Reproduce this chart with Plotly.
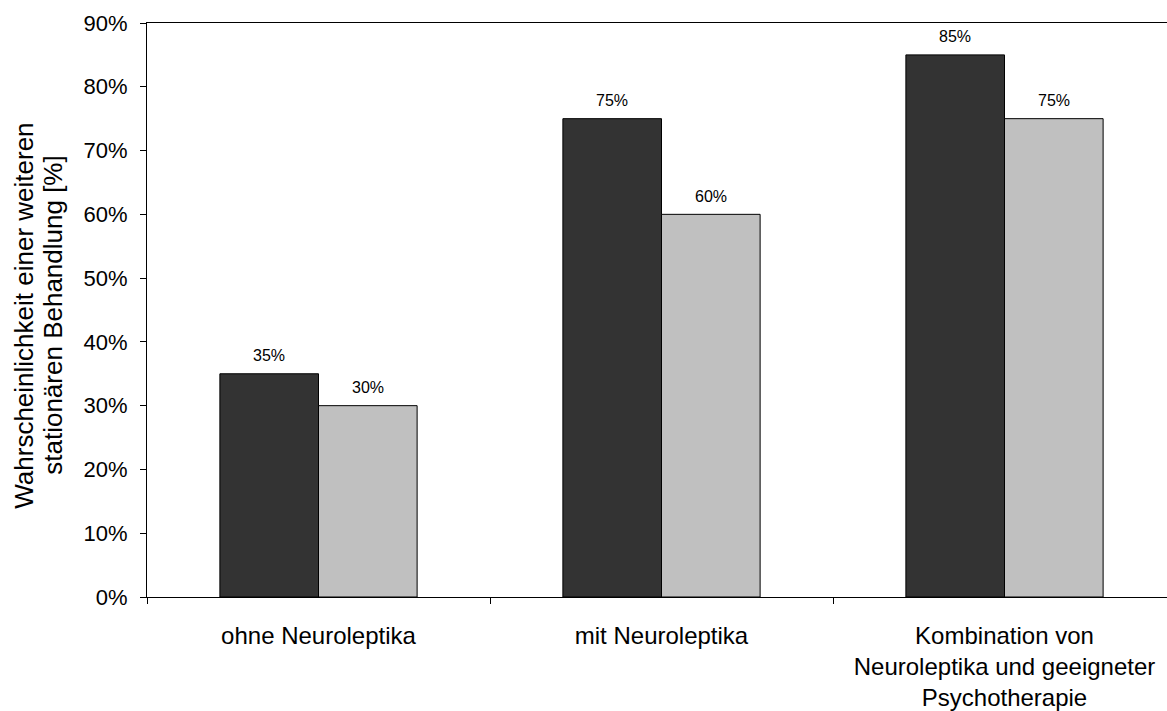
import plotly.graph_objects as go

# Data
categories = [
    "ohne Neuroleptika",
    "mit Neuroleptika",
    "Kombination von<br>Neuroleptika und geeigneter<br>Psychotherapie",
]
series_a = [35, 75, 85]
series_b = [30, 60, 75]
y_ticks = [0, 10, 20, 30, 40, 50, 60, 70, 80, 90]
y_tick_labels = [f"{v}%" for v in y_ticks]
y_title_lines = [
    "Wahrscheinlichkeit einer weiteren",
    "stationären Behandlung [%]",
]

FONT = "Liberation Sans, Arial, sans-serif"
W, H = 1167, 711
L, T, B, R = 147, 23, 114, 0
cat_px = 343.0  # pixel width of one category slot
plot_w = W - L - R

fig = go.Figure()
fig.add_trace(go.Bar(
    x=categories, y=series_a, name="A",
    marker=dict(color="#333333", line=dict(color="black", width=1)),
))
fig.add_trace(go.Bar(
    x=categories, y=series_b, name="B",
    marker=dict(color="#c0c0c0", line=dict(color="black", width=1)),
))

bargap = 0.425
half = (1 - bargap) / 2 * cat_px / 2  # pixel offset of each bar centre

annotations = []
for cat, va, vb in zip(categories, series_a, series_b):
    for v, dx in ((va, -half), (vb, half)):
        annotations.append(dict(
            x=cat, y=v, xref="x", yref="y", text=f"{v}%", showarrow=False,
            xshift=dx, yshift=18, yanchor="middle",
            font=dict(family=FONT, size=16, color="black"),
        ))

# two-line rotated axis title, one annotation per line for tight spacing
for line, px in zip(y_title_lines, (24, 53)):
    annotations.append(dict(
        x=-(L - px) / plot_w, y=0.49, xref="paper", yref="paper",
        text=line, textangle=-90, showarrow=False,
        xanchor="center", yanchor="middle",
        font=dict(family=FONT, size=26, color="black"),
    ))

fig.update_layout(
    width=W, height=H,
    margin=dict(l=L, r=R, t=T, b=B, pad=0),
    paper_bgcolor="white", plot_bgcolor="white",
    barmode="group", bargap=bargap, bargroupgap=0,
    showlegend=False,
    font=dict(family=FONT, color="black"),
    annotations=annotations,
)
fig.update_xaxes(
    type="category",
    range=[-0.5, -0.5 + plot_w / cat_px],
    showline=True, linecolor="black", linewidth=1, mirror=True,
    ticks="outside", tickson="boundaries", ticklen=6, tickcolor="black",
    tickfont=dict(family=FONT, size=24, color="black"),
    ticklabelstandoff=17,
    showgrid=False, automargin=False, fixedrange=True,
)
fig.update_yaxes(
    range=[0, 90], tickmode="array", tickvals=y_ticks, ticktext=y_tick_labels,
    showline=True, linecolor="black", linewidth=1, mirror=False,
    ticks="outside", ticklen=6, tickcolor="black",
    tickfont=dict(family=FONT, size=22, color="black"),
    ticklabelstandoff=8,
    showgrid=False, zeroline=False, automargin=False, fixedrange=True,
)

fig.write_html("out.html", config={"displayModeBar": False})
